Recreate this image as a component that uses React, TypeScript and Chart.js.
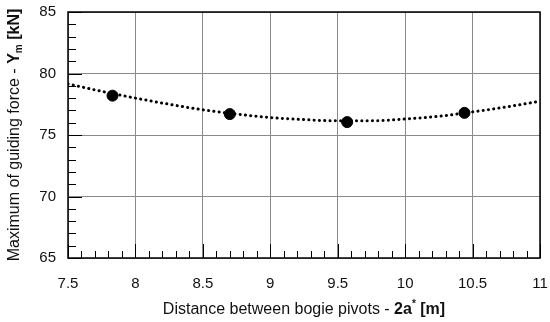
import React, { useEffect, useRef } from "react";
import { Chart, registerables } from "chart.js";

Chart.register(...registerables);

// Measured points
const pointX = [7.83, 8.7, 9.57, 10.44];
const pointY = [78.2, 76.7, 76.05, 76.8];

// Trend curve
const trendX = [7.5, 7.75, 8.0, 8.25, 8.5, 8.75, 9.0, 9.25, 9.5, 9.75, 10.0, 10.25, 10.5, 10.75, 11.0];
const trendY = [79.15, 78.55, 78.0, 77.5, 77.05, 76.7, 76.42, 76.25, 76.15, 76.15, 76.3, 76.52, 76.88, 77.28, 77.75];

const xMin = 7.5, xMax = 11, xStep = 0.5, xMinor = 0.1;
const yMin = 65, yMax = 85, yStep = 5, yMinor = 1;

const FONT = "'Liberation Sans', Arial, sans-serif";

const decorPlugin = {
  id: "decor",
  afterDraw(chart: any) {
    const ctx = chart.ctx;
    const { left, right, top, bottom } = chart.chartArea;
    const xs = chart.scales.x;
    const ys = chart.scales.y;
    ctx.save();
    ctx.strokeStyle = "#000";
    ctx.lineWidth = 1;
    for (let v = yMin; v <= yMax + 1e-9; v += yMinor) {
      const py = Math.round(ys.getPixelForValue(v)) + 0.5;
      const major = Math.abs(v / yStep - Math.round(v / yStep)) < 1e-6;
      const len = major ? 14 : 8;
      ctx.beginPath();
      ctx.moveTo(left, py);
      ctx.lineTo(left + len, py);
      ctx.stroke();
    }
    for (let i = 0; i <= Math.round((xMax - xMin) / xMinor); i++) {
      const v = xMin + i * xMinor;
      const px = Math.round(xs.getPixelForValue(v)) + 0.5;
      const major = i % 5 === 0;
      const len = major ? 14 : 7;
      ctx.beginPath();
      ctx.moveTo(px, bottom);
      ctx.lineTo(px, bottom - len);
      ctx.stroke();
    }
    ctx.lineWidth = 1.5;
    ctx.strokeRect(left, top, right - left, bottom - top);

    const drawSegs = (segs: any[], cx: number, cy: number, rot: number) => {
      ctx.save();
      ctx.translate(cx, cy);
      ctx.rotate(rot);
      ctx.fillStyle = "#111";
      ctx.textBaseline = "alphabetic";
      ctx.textAlign = "left";
      let total = 0;
      for (const s of segs) {
        ctx.font = `${s.bold ? "bold " : ""}${s.size}px ${FONT}`;
        total += ctx.measureText(s.t).width;
      }
      let x = -total / 2;
      for (const s of segs) {
        ctx.font = `${s.bold ? "bold " : ""}${s.size}px ${FONT}`;
        ctx.fillText(s.t, x, 5 + (s.dy || 0));
        x += ctx.measureText(s.t).width;
      }
      ctx.restore();
    };
    drawSegs(
      [
        { t: "Maximum of guiding force - ", size: 16 },
        { t: "Y", size: 16, bold: true },
        { t: "m", size: 10, bold: true, dy: 3 },
        { t: " [kN]", size: 16, bold: true },
      ],
      14,
      (top + bottom) / 2,
      -Math.PI / 2
    );
    drawSegs(
      [
        { t: "Distance between bogie pivots - ", size: 16 },
        { t: "2a", size: 16, bold: true },
        { t: "*", size: 10, bold: true, dy: -7 },
        { t: " [m]", size: 16, bold: true },
      ],
      (left + right) / 2,
      309,
      0
    );
    ctx.restore();
  },
};

export default function App() {
  const ref = useRef<HTMLCanvasElement>(null);
  useEffect(() => {
    if (!ref.current) return;
    const chart = new Chart(ref.current, {
      type: "scatter",
      data: {
        datasets: [
          {
            type: "line",
            data: trendX.map((x, i) => ({ x, y: trendY[i] })),
            borderColor: "#000",
            borderWidth: 3,
            borderDash: [0.1, 5.2],
            borderCapStyle: "round",
            pointRadius: 0,
            tension: 0.4,
            cubicInterpolationMode: "monotone",
            fill: false,
          } as any,
          {
            data: pointX.map((x, i) => ({ x, y: pointY[i] })),
            backgroundColor: "#000",
            borderColor: "#000",
            pointRadius: 5.5,
            showLine: false,
          },
        ],
      },
      options: {
        animation: false,
        responsive: false,
        layout: { padding: { top: 12, right: 10, left: 0, bottom: 0 } },
        plugins: { legend: { display: false }, tooltip: { enabled: false } },
        scales: {
          x: {
            type: "linear",
            min: xMin,
            max: xMax,
            afterFit(s: any) {
              s.height = 64;
              s.paddingLeft = 0;
              s.paddingRight = 0;
            },
            ticks: {
              stepSize: xStep,
              padding: 17,
              color: "#111",
              font: { family: FONT, size: 15 },
              callback: (v: any) => String(Number(v)),
            },
            grid: { color: "#8a8a8a", lineWidth: 1, drawTicks: false },
            border: { display: false },
          },
          y: {
            min: yMin,
            max: yMax,
            afterFit(s: any) {
              s.width = 68;
              s.paddingTop = 0;
              s.paddingBottom = 0;
            },
            ticks: {
              stepSize: yStep,
              padding: 12,
              color: "#111",
              font: { family: FONT, size: 15 },
            },
            grid: { color: "#8a8a8a", lineWidth: 1, drawTicks: false },
            border: { display: false },
          },
        },
      },
      plugins: [decorPlugin],
    });
    return () => chart.destroy();
  }, []);
  return (
    <div style={{ position: "fixed", left: 0, top: 0, width: 550, height: 322, background: "#fff" }}>
      <canvas ref={ref} width={550} height={322} style={{ width: 550, height: 322 }} />
    </div>
  );
}
